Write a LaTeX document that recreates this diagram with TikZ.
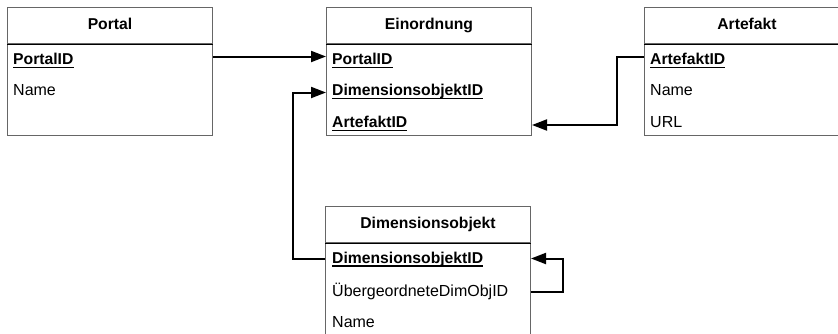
\documentclass[tikz,border=0pt]{standalone}
\usepackage{fontspec}
\setmainfont{Liberation Sans}
\usetikzlibrary{arrows.meta,calc}
\begin{document}
\begin{tikzpicture}[x=1pt,y=-1pt,
 font=\fontsize{16}{18}\selectfont,
 hdr/.style={draw=black!60,line width=1pt,minimum width=205pt,minimum height=36pt,anchor=north west,inner sep=0pt,text height=11pt,text depth=3pt,font=\fontsize{15.7}{18}\selectfont\bfseries},
 body/.style={draw=black!60,line width=1pt,minimum width=205pt,anchor=north west,inner sep=0pt},
 sepl/.style={line width=1pt,black},
 fld/.style={anchor=base west,inner sep=0pt},
 keyf/.style={fld,font=\fontsize{15.7}{18}\selectfont\bfseries},
 uline/.style={line width=1.3pt},
 conn/.style={line width=2pt,-{Triangle[length=15pt,width=11pt]}}
]
\useasboundingbox (0,0) rectangle (838,333);
\clip (0,0) rectangle (838,333);

% Portal
\node[hdr] (ph) at (7,7) {Portal};
\node[body,minimum height=91pt] (pb) at (ph.south west) {};
\draw[sepl] (ph.south west) -- (ph.south east);
\node[keyf] (pk1) at (13,64.5) {PortalID};
\node[fld] (pf2) at (13,95.5) {Name};

% Einordnung
\node[hdr] (eh) at (326,7) {Einordnung};
\node[body,minimum height=91pt] (eb) at (eh.south west) {};
\draw[sepl] (eh.south west) -- (eh.south east);
\node[keyf] (ek1) at (332,64.5) {PortalID};
\node[keyf] (ek2) at (332,95.5) {DimensionsobjektID};
\node[keyf] (ek3) at (332,127.5) {ArtefaktID};

% Artefakt
\node[hdr] (ah) at (644,7) {Artefakt};
\node[body,minimum height=91pt] (ab) at (ah.south west) {};
\draw[sepl] (ah.south west) -- (ah.south east);
\node[keyf] (ak1) at (650,64.5) {ArtefaktID};
\node[fld] (af2) at (650,95.5) {Name};
\node[fld] (af3) at (650,127.5) {URL};

% Dimensionsobjekt
\node[hdr] (dh) at (325,206) {Dimensionsobjekt};
\node[body,minimum height=110pt] (db) at (dh.south west) {};
\draw[sepl] (dh.south west) -- (dh.south east);
\node[keyf] (dk1) at (332,263) {DimensionsobjektID};
\node[fld] (df2) at (332,296) {ÜbergeordneteDimObjID};
\node[fld] (df3) at (332,327) {Name};

% underlines
\foreach \k in {pk1,ek1,ek2,ek3,ak1,dk1}
  \draw[uline] ([yshift=-3pt]\k.base west) -- ([yshift=-3pt]\k.base east);

% connectors
\draw[conn] ([yshift=8pt]pk1.base -| pb.east) -- ([yshift=8pt]ek1.base -| eb.west);
\draw[conn] ([yshift=4pt]dk1.base -| db.west) -- ++(-32,0) |- ([yshift=3pt]ek2.base -| eb.west);
\draw[conn] ([yshift=8pt]ak1.base -| ab.west) -- ++(-27,0) |- ([yshift=2.5pt]ek3.base -| eb.east);
\draw[conn] ([yshift=4.5pt]df2.base -| db.east) -- ++(32,0) |- ([yshift=4.5pt]dk1.base -| db.east);
\end{tikzpicture}
\end{document}
